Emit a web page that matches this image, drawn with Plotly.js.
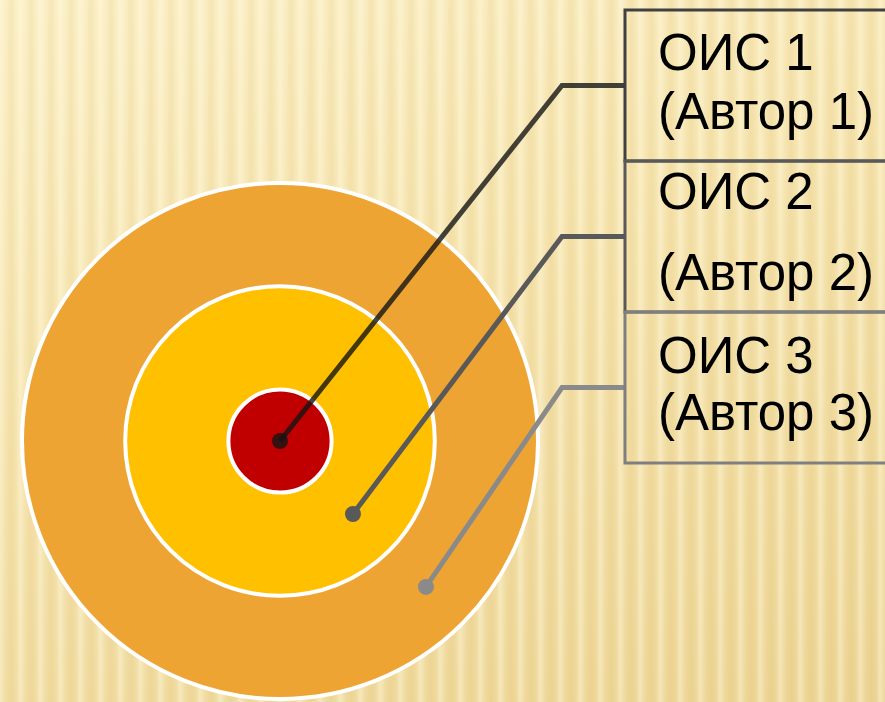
<!DOCTYPE html>
<html>
<head>
<meta charset="utf-8">
<script src="https://cdn.plot.ly/plotly-3.0.1.min.js"></script>
<style>
  html, body { margin: 0; padding: 0; }
  body {
    width: 885px; height: 702px; overflow: hidden;
    background:
      repeating-linear-gradient(90deg,
        rgba(255,250,225,0.45) 0px, rgba(255,250,225,0.0) 6px,
        rgba(214,176,90,0.12) 11px, rgba(255,250,225,0.0) 16px,
        rgba(255,250,225,0.45) 20px),
      linear-gradient(160deg, #fbefc6 0%, #f5e3ad 45%, #ecd494 100%);
  }
  #chart { width: 885px; height: 702px; }
</style>
</head>
<body>
<div id="chart"></div>
<script>
// ---- data ----
const labels  = ["ОИС 1", "ОИС 2", "ОИС 3"];
const authors = ["(Автор 1)", "(Автор 2)", "(Автор 3)"];
const ringLevels = [1, 3, 5];            // relative radii of the concentric rings
const ringColors = ["#C00000", "#FFC000", "#EEA432"];
const lineColors = ["rgba(20,20,20,0.8)", "#595959", "#8a8a8a"];
const boxColors  = ["#404040", "#595959", "#7f7f7f"];

// ---- layout geometry (pixels == axis units) ----
const unit = 51.6;           // axis units per ring level
const boxLeft = 345, boxRight = 700, boxTop = 431, boxH = 151;
const elbowX = 282;
const textX = 376;
const firstOff = [42, 30, 43];
const secondOff = [101, 111, 100];
const fontSpec = { family: "Liberation Sans, Arial", size: 51, color: "#000" };

const shapes = [];
for (let i = ringLevels.length - 1; i >= 0; i--) {
  const r = ringLevels[i] * unit;
  shapes.push({
    type: "circle", xref: "x", yref: "y", layer: "below",
    x0: -r, x1: r, y0: -r, y1: r,
    fillcolor: ringColors[i],
    line: { color: "#ffffff", width: 4 }
  });
}
labels.forEach((_, i) => {
  shapes.push({
    type: "rect", xref: "x", yref: "y", layer: "above",
    x0: boxLeft, x1: boxRight,
    y0: boxTop - (i + 1) * boxH, y1: boxTop - i * boxH,
    fillcolor: "rgba(0,0,0,0)",
    line: { color: boxColors[i], width: 3 }
  });
});

const traces = [];
const annotations = [];
const ang = -Math.PI / 4;
labels.forEach((lab, i) => {
  const d = i === 0 ? 0 : (ringLevels[i - 1] + ringLevels[i]) / 2 * unit;
  const px = d * Math.cos(ang), py = d * Math.sin(ang);
  const midY = boxTop - (i + 0.5) * boxH;
  traces.push({
    type: "scatter", mode: "lines",
    x: [px, elbowX, boxLeft], y: [py, midY, midY],
    line: { color: lineColors[i], width: 5 },
    hoverinfo: "skip"
  });
  traces.push({
    type: "scatter", mode: "markers",
    x: [px], y: [py],
    marker: { color: lineColors[i], size: 16 },
    hoverinfo: "skip"
  });
  const top = boxTop - i * boxH;
  annotations.push({
    xref: "x", yref: "y", x: textX, y: top - firstOff[i], xanchor: "left", yanchor: "middle",
    text: lab, showarrow: false, font: fontSpec
  });
  annotations.push({
    xref: "x", yref: "y", x: textX, y: top - secondOff[i], xanchor: "left", yanchor: "middle",
    text: authors[i], showarrow: false, font: fontSpec
  });
});

const layout = {
  width: 885, height: 702,
  margin: { l: 0, r: 0, t: 0, b: 0, pad: 0 },
  paper_bgcolor: "rgba(0,0,0,0)", plot_bgcolor: "rgba(0,0,0,0)",
  showlegend: false,
  xaxis: { range: [-280, 605], visible: false, fixedrange: true },
  yaxis: { range: [-261, 441], visible: false, fixedrange: true },
  shapes, annotations
};
Plotly.newPlot("chart", traces, layout, { staticPlot: true, displayModeBar: false });
</script>
</body>
</html>
